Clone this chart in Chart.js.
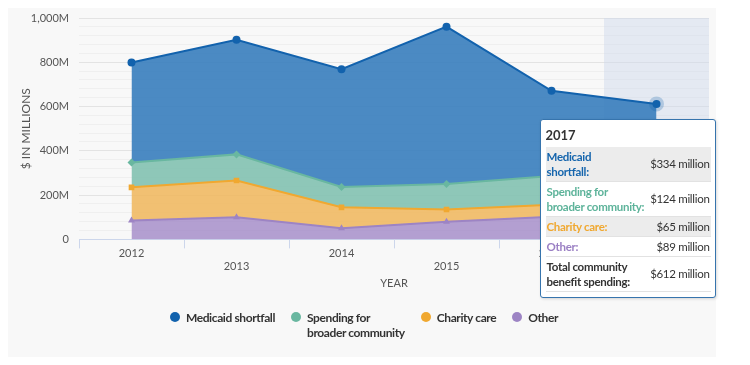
<!DOCTYPE html>
<html>
<head>
<meta charset="utf-8">
<script src="https://cdn.jsdelivr.net/npm/chart.js@4.4.1/dist/chart.umd.min.js"></script>
<style>
  body { margin: 0; background: #fff; font-family: Lato, "Open Sans", sans-serif; }
  #box { position: absolute; left: 8px; top: 8px; width: 708px; height: 349px; background: #f8f8f8; }
  #chart { position: absolute; left: 0; top: 0; }
  #legend { position: absolute; left: 2px; top: 302px; width: 708px; display: flex; justify-content: center; font-weight: bold; font-size: 12px; letter-spacing: -0.4px; color: #333; }
  .item { display: flex; align-items: flex-start; margin: 0 8px; }
  .dot { width: 10px; height: 10px; border-radius: 50%; margin: 2px 6px 0 0; flex: none; }
  .item span { line-height: 15px; }
  #tip { position: absolute; background: #fff; border: 1px solid #3674ad; border-radius: 3px;
         box-shadow: 1px 1px 3px rgba(0,0,0,0.15); padding: 4px 4px 5px 5px; width: 165px; color: #333; }
  #tip .head { font-weight: bold; font-size: 13px; margin: 3px 0 4px 0; }
  #tip table { border-collapse: collapse; width: 100%; }
  #tip td { padding: 2px 1px; border-bottom: 1px solid #e2e2e2; line-height: 15px; }
  #tip td.l { font-weight: bold; font-size: 11.5px; letter-spacing: -0.3px; white-space: nowrap; }
  #tip td.v { text-align: right; white-space: nowrap; font-size: 11.5px; letter-spacing: -0.3px; }
  #tip tr.g td { background: #ececec; }
</style>
</head>
<body>
<div id="box">
  <canvas id="chart" width="708" height="349"></canvas>
  <div id="legend"></div>
  <div id="tip"></div>
</div>
<script>
const years = ['2012', '2013', '2014', '2015', '2016', '2017'];
// stacking order, bottom to top
const other = [85, 100, 50, 80, 102, 89];
const charityCare = [150, 166, 95, 55, 54, 65];
const broaderCommunity = [112, 118, 92, 115, 130, 124];
const medicaidShortfall = [452, 518, 532, 711, 385, 334];
const activeIndex = 5;

const series = [
  { label: 'Other', tip: 'Other:', data: other, line: '#9d84c4', fill: 'rgba(163,139,200,0.82)', point: 'triangle', text: '#9b80c4' },
  { label: 'Charity care', tip: 'Charity care:', data: charityCare, line: '#f0a830', fill: 'rgba(240,182,90,0.85)', point: 'rect', text: '#f0a830' },
  { label: 'Spending for broader community', tip: 'Spending for<br>broader community:', data: broaderCommunity, line: '#69b7a0', fill: 'rgba(132,194,178,0.92)', point: 'rectRot', text: '#5db39a' },
  { label: 'Medicaid shortfall', tip: 'Medicaid<br>shortfall:', data: medicaidShortfall, line: '#1262ad', fill: 'rgba(60,128,190,0.92)', point: 'circle', text: '#1565ad' }
];

const hoverBand = {
  id: 'hoverBand',
  beforeDatasetsDraw(chart) {
    const x = chart.scales.x, area = chart.chartArea, ctx = chart.ctx;
    const w = x.getPixelForValue(1) - x.getPixelForValue(0);
    const cx = x.getPixelForValue(activeIndex);
    ctx.save();
    ctx.fillStyle = 'rgba(204,214,235,0.45)';
    ctx.fillRect(cx - w / 2, area.top, w, area.bottom - area.top);
    ctx.restore();
  }
};

function fmt(v) { return '$' + v + ' million'; }

function externalTip(context) {
  const chart = context.chart;
  const el = document.getElementById('tip');
  const i = activeIndex;
  const top = chart.getDatasetMeta(3).data[i];
  const order = [3, 2, 1, 0];
  let total = 0;
  let rows = '';
  order.forEach((d, n) => {
    const s = series[d];
    total += s.data[i];
    rows += `<tr class="${n % 2 === 0 ? 'g' : ''}"><td class="l" style="color:${s.text}">${s.tip}</td><td class="v">${fmt(s.data[i])}</td></tr>`;
  });
  rows += `<tr><td class="l" style="color:#333">Total community<br>benefit spending:</td><td class="v">${fmt(total)}</td></tr>`;
  el.innerHTML = `<div class="head">${years[i]}</div><table>${rows}</table>`;
  el.style.left = (top.x - 117) + 'px';
  el.style.top = (top.y + 15) + 'px';
}

const chart = new Chart(document.getElementById('chart'), {
  type: 'line',
  data: {
    labels: years,
    datasets: series.map((s, i) => ({
      label: s.label,
      data: s.data,
      borderColor: s.line,
      backgroundColor: s.fill,
      borderWidth: 2,
      fill: i === 0 ? 'origin' : '-1',
      tension: 0,
      pointStyle: s.point,
      pointRadius: 4,
      pointBackgroundColor: s.line,
      pointBorderColor: s.line,
      pointBorderWidth: 0,
      pointHoverRadius: 4,
      pointHoverBackgroundColor: s.line,
      pointHoverBorderColor: i === 3 ? 'rgba(18,98,173,0.25)' : s.line,
      pointHoverBorderWidth: i === 3 ? 7 : 0
    }))
  },
  options: {
    responsive: false,
    animation: false,
    layout: { padding: { top: 10, right: 7, left: 0, bottom: 67 } },
    interaction: { mode: 'index', intersect: false },
    plugins: {
      legend: { display: false },
      tooltip: { enabled: false, external: externalTip }
    },
    scales: {
      x: {
        offset: true,
        grid: { offset: true, drawOnChartArea: false, drawTicks: true, tickLength: 9, color: '#ccd6eb' },
        border: { color: '#ccd6eb' },
        ticks: {
          color: '#555', font: { family: 'Lato', size: 11 }, padding: -2, maxRotation: 0, autoSkip: false,
          callback: (v, i) => i % 2 ? ['', years[i]] : years[i]
        },
        title: { display: true, text: 'YEAR', color: '#555', font: { family: 'Lato', size: 11 }, padding: { top: 6, bottom: 0 } }
      },
      y: {
        stacked: true,
        min: 0, max: 1000,
        afterFit: scale => { scale.width = 71; scale.paddingTop = 0; scale.paddingBottom = 0; },
        grid: {
          drawTicks: false,
          color: ctx => ctx.tick.value % 200 === 0 ? '#e3e3e3' : '#efefef'
        },
        border: { display: false },
        ticks: {
          stepSize: 40, autoSkip: false, padding: 10, color: '#555',
          font: { family: 'Lato', size: 11 },
          callback: v => v % 200 !== 0 ? '' : (v === 0 ? '0' : v.toLocaleString('en-US') + 'M')
        },
        title: { display: true, text: '$ IN MILLIONS', color: '#555', font: { family: 'Lato', size: 12 }, padding: { top: 11, bottom: 0 } }
      }
    }
  },
  plugins: [hoverBand]
});

const active = series.map((s, d) => ({ datasetIndex: d, index: activeIndex }));
chart.setActiveElements(active);
chart.tooltip.setActiveElements(active, { x: 0, y: 0 });
chart.update();

const legend = document.getElementById('legend');
[3, 2, 1, 0].forEach(d => {
  const s = series[d];
  const item = document.createElement('div');
  item.className = 'item';
  const label = d === 2 ? 'Spending for<br>broader community' : s.label;
  item.innerHTML = `<div class="dot" style="background:${s.line}"></div><span>${label}</span>`;
  legend.appendChild(item);
});
</script>
</body>
</html>
